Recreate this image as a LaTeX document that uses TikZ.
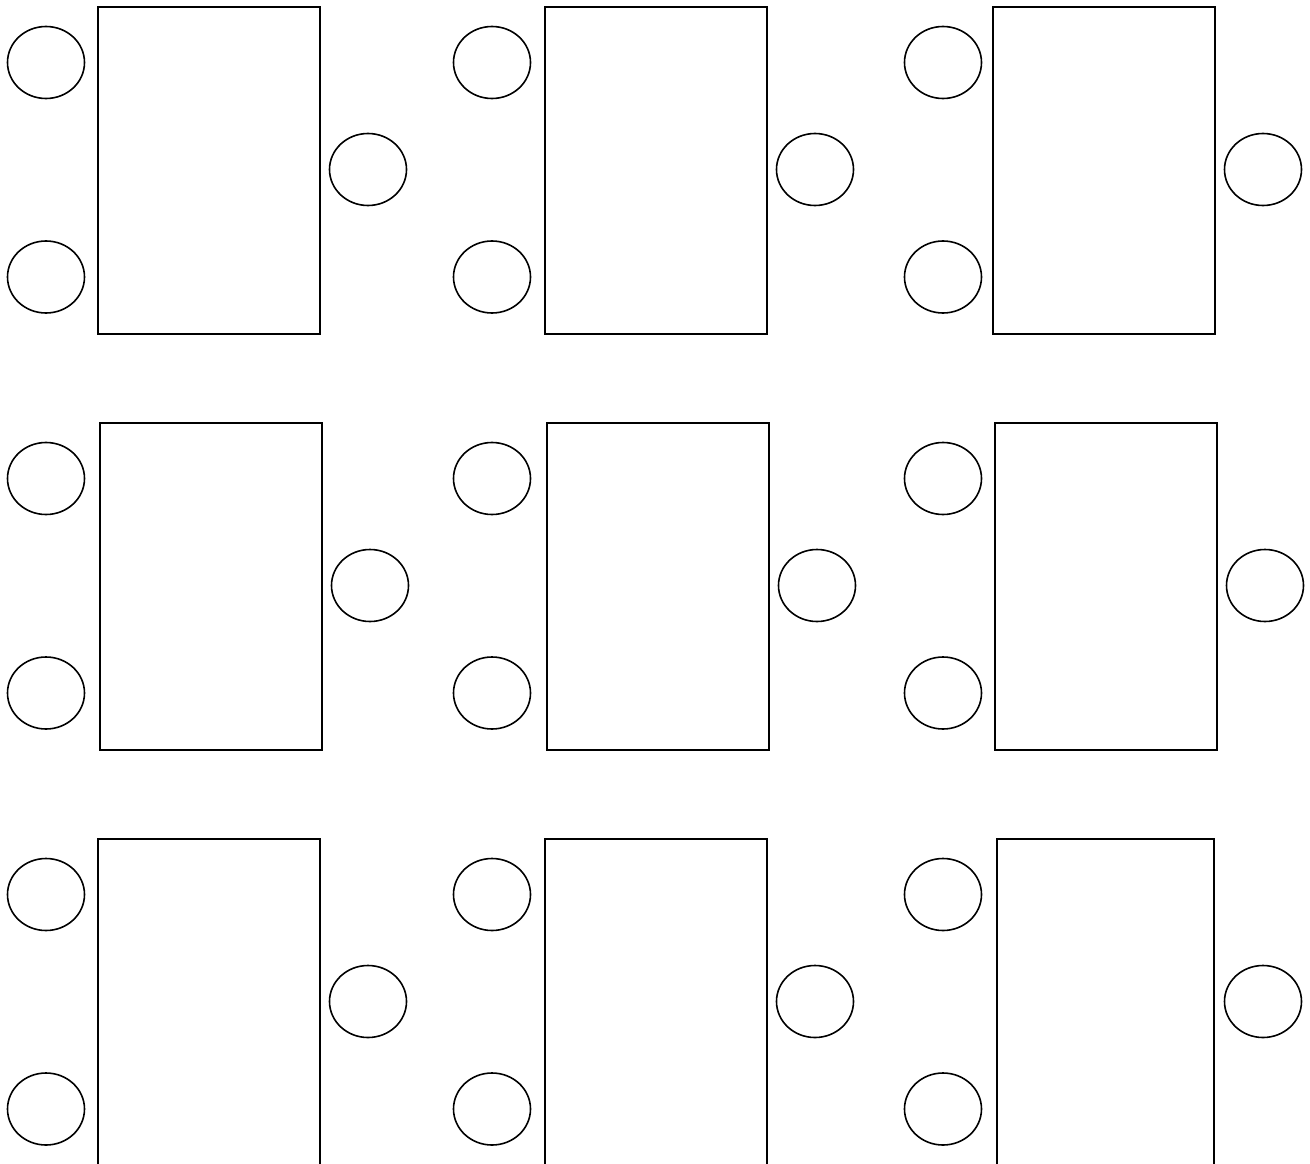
\documentclass[tikz,border=0pt]{standalone}
\usetikzlibrary{shapes.geometric}
\begin{document}
\begin{tikzpicture}[x=1pt,y=-1pt,
    blk/.style={draw, line width=1.6pt, minimum height=327pt, inner sep=0pt},
    port/.style={draw, ellipse, line width=1.6pt, minimum width=77pt, minimum height=72pt, inner sep=0pt}]
    % Fix the page
    \useasboundingbox (0,0) rectangle (1310,1164);
    \clip (0,0) rectangle (1310,1164);

    % Blocks: name/left/top/width/left ports x/right port x
    \foreach \n/\x/\y/\w/\px/\qx in {a/98/7/222/46/368, b/545/7/222/492/815, c/993/7/222/943/1263,
        d/100/423/222/46/370, e/547/423/222/492/817, f/995/423/222/943/1265,
        g/98/839/222/46/368, h/545/839/222/492/815, i/997/839/217/943/1263} {
      \node[blk, minimum width=\w pt] (blk\n) at (\x+\w/2, \y+163.5) {};
      \node[port] (in\n1) at (\px, \y+55.5) {};
      \node[port] (in\n2) at (\px, \y+270) {};
      \node[port] (out\n) at (\qx, \y+162.5) {};
    }
\end{tikzpicture}
\end{document}
